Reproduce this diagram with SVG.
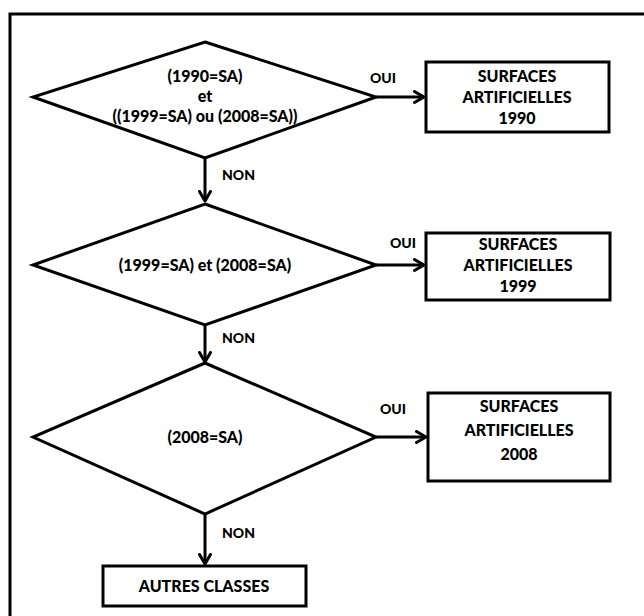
<svg xmlns="http://www.w3.org/2000/svg" width="644" height="616" viewBox="0 0 644 616">
<defs>
<style>
.shape{fill:#fff;stroke:#000;stroke-width:3;stroke-linejoin:miter}
.t{font-family:Lato,"Liberation Sans",sans-serif;font-weight:900;font-size:16px;fill:#000;text-anchor:middle}
.lbl{font-family:Lato,"Liberation Sans",sans-serif;font-weight:900;font-size:14px;fill:#000}
.c{stroke:#000;stroke-width:3;fill:none}
</style>
<marker id="ah" markerWidth="14" markerHeight="14" refX="11" refY="7" orient="auto" markerUnits="userSpaceOnUse">
<path d="M1.5,1.5 L11,7 L1.5,12.5" fill="none" stroke="#000" stroke-width="3" stroke-linecap="round" stroke-linejoin="round"/>
</marker>
</defs>
<rect width="644" height="616" fill="#fff"/>
<path d="M10,616 L10,14 L644,14" fill="none" stroke="#000" stroke-width="3"/>
<g id="connectors">
<line class="c" x1="376" y1="97" x2="424" y2="97" marker-end="url(#ah)"/>
<line class="c" x1="205" y1="158" x2="205" y2="201" marker-end="url(#ah)"/>
<line class="c" x1="376" y1="265" x2="424" y2="265" marker-end="url(#ah)"/>
<line class="c" x1="205" y1="325" x2="205" y2="362" marker-end="url(#ah)"/>
<line class="c" x1="376" y1="437" x2="426" y2="437" marker-end="url(#ah)"/>
<line class="c" x1="205" y1="514" x2="205" y2="564" marker-end="url(#ah)"/>
<text class="lbl" x="370" y="83">OUI</text>
<text class="lbl" x="222" y="180">NON</text>
<text class="lbl" x="390" y="248">OUI</text>
<text class="lbl" x="222" y="343">NON</text>
<text class="lbl" x="380" y="414">OUI</text>
<text class="lbl" x="222" y="538">NON</text>
</g>
<g id="d1">
<polygon class="shape" points="205,42 376,97 205,158 33,97"/>
<text class="t" x="205" y="82">(1990=SA)</text>
<text class="t" x="205" y="102">et</text>
<text class="t" x="205" y="122">((1999=SA) ou (2008=SA))</text>
</g>
<g id="b1">
<rect class="shape" x="426" y="62" width="183" height="70"/>
<text class="t" x="517" y="82">SURFACES</text>
<text class="t" x="517" y="103">ARTIFICIELLES</text>
<text class="t" x="517" y="124">1990</text>
</g>
<g id="d2">
<polygon class="shape" points="205,204 376,265 205,325 33,265"/>
<text class="t" x="205" y="271">(1999=SA) et (2008=SA)</text>
</g>
<g id="b2">
<rect class="shape" x="426" y="233" width="184" height="67"/>
<text class="t" x="518" y="250">SURFACES</text>
<text class="t" x="518" y="271">ARTIFICIELLES</text>
<text class="t" x="518" y="292">1999</text>
</g>
<g id="d3">
<polygon class="shape" points="205,363 376,437 205,514 33,437"/>
<text class="t" x="205" y="443">(2008=SA)</text>
</g>
<g id="b3">
<rect class="shape" x="428" y="393" width="182" height="88"/>
<text class="t" x="519" y="412">SURFACES</text>
<text class="t" x="519" y="436">ARTIFICIELLES</text>
<text class="t" x="519" y="460">2008</text>
</g>
<g id="b4">
<rect class="shape" x="103" y="566" width="203" height="40"/>
<text class="t" x="204" y="592">AUTRES CLASSES</text>
</g>
</svg>
